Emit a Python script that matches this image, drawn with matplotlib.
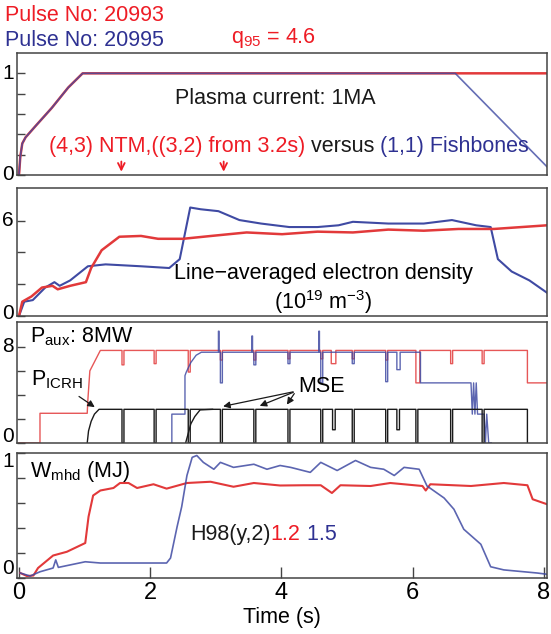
import numpy as np
import matplotlib
matplotlib.use('Agg')
import matplotlib.pyplot as plt

plt.rcParams['font.family'] = ['Liberation Sans', 'DejaVu Sans']
plt.rcParams['mathtext.fontset'] = 'custom'
plt.rcParams['mathtext.rm'] = 'Liberation Sans'
plt.rcParams['mathtext.it'] = 'Liberation Sans:italic'
plt.rcParams['axes.unicode_minus'] = True

RED = '#e2393a'
BLUE = '#3f4aa3'
TRED = '#ee1c25'
TBLUE = '#2e3192'
BLACK = '#1a1a1a'
FS = 15.5
TFS = 15

# --- plasma current (MA) ---
ip_red_t = [0.0, 0.02, 0.05, 0.10, 0.25, 0.50, 0.75, 0.97, 8.05]
ip_red_v = [0.0, 0.18, 0.31, 0.37, 0.48, 0.66, 0.86, 1.00, 1.00]
ip_blue_t = [0.0, 0.02, 0.05, 0.10, 0.25, 0.50, 0.75, 0.97, 6.65, 8.05]
ip_blue_v = [0.0, 0.18, 0.31, 0.37, 0.48, 0.66, 0.86, 1.00, 1.00, 0.08]
arrow_t = [1.56, 3.12]

# --- line averaged density (1e19 m^-3) ---
ne_red_t = [0.0, 0.05, 0.19, 0.35, 0.51, 0.59, 0.78, 1.02, 1.10, 1.26, 1.53, 1.86, 2.12,
            2.50, 2.93, 3.47, 4.01, 4.55, 5.09, 5.63, 6.17, 6.70, 7.24, 8.05]
ne_red_v = [0.0, 0.90, 1.23, 1.79, 1.90, 1.68, 1.90, 2.13, 3.02, 4.14, 4.99, 5.04, 4.86,
            4.86, 5.04, 5.26, 5.15, 5.31, 5.26, 5.44, 5.37, 5.48, 5.48, 5.71]
ne_blue_t = [0.0, 0.08, 0.21, 0.40, 0.54, 0.62, 0.78, 1.05, 1.32, 1.86, 2.29, 2.45, 2.61,
             2.77, 3.04, 3.36, 3.69, 4.12, 4.55, 4.87, 5.09, 5.63, 6.17, 6.60, 6.97, 7.19,
             7.30, 7.51, 7.78, 8.05]
ne_blue_v = [0.0, 0.90, 1.00, 1.79, 2.13, 1.90, 2.24, 3.13, 3.25, 3.13, 3.02, 3.58, 6.83,
             6.72, 6.60, 6.04, 5.82, 5.60, 5.60, 5.71, 5.93, 5.82, 5.82, 6.04, 5.71, 5.60,
             3.58, 2.80, 2.24, 1.46]

# --- auxiliary power (MW): ramps plus MSE notches (time, value, width) ---
paux_red_t = [0.0, 0.32, 0.32, 1.04, 1.05, 1.08, 1.24]
paux_red_v = [0.0, 0.0, 2.47, 2.47, 3.6, 6.0, 7.7]
paux_red_level = 7.7
paux_red_notch = [(1.57, 6.5, 0.03), (2.06, 6.6, 0.03), (2.58, 5.9, 0.03), (3.07, 6.9, 0.03),
                  (3.58, 6.9, 0.03), (4.10, 7.0, 0.03), (4.60, 7.0, 0.03), (4.76, 6.6, 0.07),
                  (5.08, 7.0, 0.03), (5.59, 6.9, 0.03), (6.05, 5.0, 0.06), (6.58, 6.6, 0.03),
                  (7.06, 6.6, 0.03)]
paux_red_end_t = [7.75, 7.75, 8.05]
paux_red_end_v = [7.7, 5.0, 5.0]

paux_blue_t = [2.33, 2.33, 2.53, 2.53, 2.55, 2.62, 2.70, 2.78]
paux_blue_v = [0.0, 2.4, 2.4, 5.6, 5.9, 6.7, 7.3, 7.55]
paux_blue_level = 7.55
paux_blue_notch = [(3.04, 9.3, 0.01), (3.07, 5.0, 0.03), (3.55, 8.9, 0.01), (3.58, 6.5, 0.03),
                   (4.10, 6.6, 0.03), (4.57, 9.3, 0.01), (4.60, 5.0, 0.03), (5.08, 6.6, 0.03),
                   (5.59, 5.1, 0.03), (5.76, 6.1, 0.05)]
paux_blue_end_t = [6.12, 6.12, 6.89, 6.91, 6.93, 6.95, 6.97, 6.99, 7.01, 7.09, 7.11, 7.13, 7.16, 7.20]
paux_blue_end_v = [7.55, 5.0, 5.0, 2.4, 5.0, 2.4, 5.0, 2.4, 2.4, 2.4, 0.0, 2.4, 0.0, 0.0]

picrh_t = [1.04, 1.06, 1.10, 1.15, 1.22]
picrh_v = [0.0, 1.0, 1.8, 2.4, 2.8]
picrh_level = 2.8
picrh_notch = [(1.57, 0, 0.03), (2.06, 0, 0.03), (2.58, 0, 0.03), (3.07, 0, 0.03),
               (3.58, 0, 0.03), (4.10, 0, 0.03), (4.60, 0, 0.03), (4.78, 1.1, 0.04),
               (5.08, 0, 0.03), (5.59, 0, 0.03), (5.76, 1.1, 0.04), (6.05, 0, 0.03),
               (6.58, 0, 0.03), (7.06, 0, 0.03)]
picrh_end_t = [7.75, 7.75]
picrh_end_v = [2.8, 0.0]
picrh2_t = [2.54, 2.58, 2.62, 2.68, 2.76, 2.95]
picrh2_v = [0.0, 0.8, 1.6, 2.2, 2.75, 2.8]

# --- stored energy (MJ) ---
w_red_t = [0.02, 0.12, 0.22, 0.29, 0.52, 0.73, 1.01, 1.06, 1.13, 1.24, 1.44, 1.54, 1.67, 1.80,
           2.05, 2.25, 2.56, 2.92, 3.27, 3.58, 3.98, 4.34, 4.60, 4.77, 4.90, 5.36, 5.66, 6.15,
           6.20, 6.27, 6.89, 7.39, 7.75, 7.83, 8.05]
w_red_v = [0.04, 0.016, 0.02, 0.08, 0.18, 0.21, 0.28, 0.49, 0.66, 0.70, 0.72, 0.76, 0.76, 0.72,
           0.75, 0.715, 0.76, 0.77, 0.73, 0.76, 0.74, 0.742, 0.742, 0.68, 0.742, 0.736, 0.76, 0.736,
           0.70, 0.75, 0.736, 0.76, 0.742, 0.63, 0.59]
w_blue_t = [0.02, 0.17, 0.32, 0.52, 0.56, 0.60, 1.01, 1.24, 2.25, 2.31, 2.41, 2.48, 2.56, 2.64,
            2.71, 2.81, 2.97, 3.07, 3.27, 3.58, 3.78, 3.98, 4.14, 4.44, 4.60, 4.85, 5.13, 5.36,
            5.56, 5.72, 5.87, 6.10, 6.22, 6.48, 6.63, 6.78, 7.04, 7.19, 7.39, 7.90, 8.05]
w_blue_v = [0.04, 0.016, 0.05, 0.08, 0.145, 0.085, 0.13, 0.12, 0.12, 0.16, 0.41, 0.57, 0.82, 0.965,
            0.98, 0.925, 0.87, 0.925, 0.885, 0.91, 0.87, 0.90, 0.885, 0.845, 0.925, 0.86, 0.94, 0.885,
            0.87, 0.82, 0.885, 0.87, 0.736, 0.64, 0.55, 0.39, 0.27, 0.09, 0.065, 0.04, 0.03]

time_ticks = [0, 2, 4, 6, 8]


def notched(start_t, start_v, level, notches, end_t, end_v):
    # ramp points, then flat level interrupted by the MSE notches, then the end points
    ts, vs = list(start_t), list(start_v)
    for nt, nv, w in notches:
        ts += [nt, nt, nt + w, nt + w]
        vs += [level, nv, nv, level]
    return ts + list(end_t), vs + list(end_v)


def ylab(ax, y, s, va='center'):
    # hand placed y tick label (panels are packed tightly)
    ax.text(-0.006, y, s, transform=ax.get_yaxis_transform(), ha='right', va=va, fontsize=TFS)


fig = plt.figure(figsize=(5.51, 6.34), dpi=100)
L, W = 0.0309, 0.962
ax1 = fig.add_axes([L, 0.724, W, 0.1924])
ax2 = fig.add_axes([L, 0.5016, W, 0.2019])
ax3 = fig.add_axes([L, 0.3013, W, 0.1909])
ax4 = fig.add_axes([L, 0.0883, W, 0.1972])

for ax in (ax1, ax2, ax3, ax4):
    ax.set_xlim(-0.03, 8.05)
    for s in ax.spines.values():
        s.set_color('#444444')
        s.set_linewidth(1.1)
    ax.tick_params(axis='y', direction='in', length=6, width=1, labelleft=False, color='#444444')
    ax.tick_params(axis='x', direction='in', length=8, width=1, labelsize=17, color='#444444', pad=3)
    ax.set_xticks([])

# panel 1
ax1.plot(ip_red_t, ip_red_v, color=RED, lw=1.8)
ax1.plot(ip_blue_t, ip_blue_v, color=BLUE, lw=1.2, alpha=0.8)
ax1.set_ylim(0, 1.2)
ax1.set_yticks([0, 0.2, 0.4, 0.6, 0.8, 1.0])
ylab(ax1, 1.0, '1')
ylab(ax1, 0.0, '0')
ax1.text(3.9, 0.75, 'Plasma current: 1MA', fontsize=FS, ha='center', va='center', color=BLACK)
t1 = ax1.text(0.45, 0.28, '(4,3) NTM,((3,2) from 3.2s)', fontsize=FS, color=TRED, va='center')
t2 = ax1.annotate(' versus ', xy=(1, 0), xycoords=t1, va='bottom', fontsize=FS, color=BLACK)
ax1.annotate('(1,1) Fishbones', xy=(1, 0), xycoords=t2, va='bottom', fontsize=FS, color=TBLUE)
for at in arrow_t:
    ax1.annotate('', xy=(at, 0.005), xytext=(at, 0.16),
                 arrowprops=dict(arrowstyle='->', color=TRED, lw=1.3, mutation_scale=12))

fig.text(0.009, 0.967, 'Pulse No: 20993', color=TRED, fontsize=FS, va='baseline')
fig.text(0.009, 0.928, 'Pulse No: 20995', color=TBLUE, fontsize=FS, va='baseline')
fig.text(0.42, 0.932, r'q$\mathregular{_{95}}$ = 4.6', color=TRED, fontsize=FS, va='baseline')

# panel 2
ax2.plot(ne_blue_t, ne_blue_v, color=BLUE, lw=1.5)
ax2.plot(ne_red_t, ne_red_v, color=RED, lw=1.8)
ax2.set_ylim(0, 8.06)
ax2.set_yticks([0, 2, 4, 6])
ylab(ax2, 6, '6')
ylab(ax2, 0.15, '0')
ax2.text(4.64, 2.69, 'Line\u2212averaged electron density', fontsize=FS, ha='center', va='center')
ax2.text(4.64, 0.9, r'(10$\mathregular{^{19}}$ m$\mathregular{^{-3}}$)', fontsize=FS, ha='center', va='center')

# panel 3
rt, rv = notched(paux_red_t, paux_red_v, paux_red_level, paux_red_notch, paux_red_end_t, paux_red_end_v)
bt, bv = notched(paux_blue_t, paux_blue_v, paux_blue_level, paux_blue_notch, paux_blue_end_t, paux_blue_end_v)
kt, kv = notched(picrh_t, picrh_v, picrh_level, picrh_notch, picrh_end_t, picrh_end_v)
ax3.plot(rt, rv, color=RED, lw=1.0, alpha=0.85)
ax3.plot(bt, bv, color=BLUE, lw=1.0, alpha=0.85)
ax3.plot(kt, kv, color=BLACK, lw=1.0)
ax3.plot(picrh2_t, picrh2_v, color=BLACK, lw=1.0)
ax3.set_ylim(0, 10.07)
ax3.set_yticks([0, 2, 4, 6, 8])
ylab(ax3, 8, '8')
ylab(ax3, 0.5, '0')
ax3.text(0.17, 8.86, r'P$\mathregular{_{aux}}$: 8MW', fontsize=FS, va='center')
ax3.text(0.19, 5.25, r'P$\mathregular{_{ICRH}}$', fontsize=FS, va='center')
ax3.annotate('', xy=(1.19, 2.85), xytext=(0.88, 4.0),
             arrowprops=dict(arrowstyle='-|>', color=BLACK, lw=0.9, mutation_scale=10))
ax3.text(4.25, 4.7, 'MSE', fontsize=FS, va='center')
for mt in [3.07, 3.63, 4.06]:
    ax3.annotate('', xy=(mt, 3.0), xytext=(4.22, 4.3),
                 arrowprops=dict(arrowstyle='-|>', color=BLACK, lw=0.9, mutation_scale=10))

# panel 4
ax4.plot(w_red_t, w_red_v, color=RED, lw=1.5)
ax4.plot(w_blue_t, w_blue_v, color=BLUE, lw=1.2, alpha=0.85)
ax4.set_ylim(0, 1.0)
ax4.set_yticks([0, 0.2, 0.4, 0.6, 0.8, 1.0])
ylab(ax4, 0.93, '1')
ylab(ax4, 0.0, '0', va='bottom')
ax4.set_xticks(time_ticks)
ax4.set_xticklabels([str(v) for v in time_ticks])
ax4.set_xlabel('Time (s)', fontsize=FS, labelpad=2)
ax4.text(0.17, 0.85, r'W$\mathregular{_{mhd}}$ (MJ)', fontsize=FS, va='center')
h1 = ax4.text(2.61, 0.35, 'H98(y,2)', fontsize=FS, va='center', color=BLACK)
h2 = ax4.annotate('1.2', xy=(1, 0), xycoords=h1, va='bottom', fontsize=FS, color=TRED)
ax4.annotate(' 1.5', xy=(1, 0), xycoords=h2, va='bottom', fontsize=FS, color=TBLUE)

fig.savefig('out.png', dpi=100, facecolor='white')
